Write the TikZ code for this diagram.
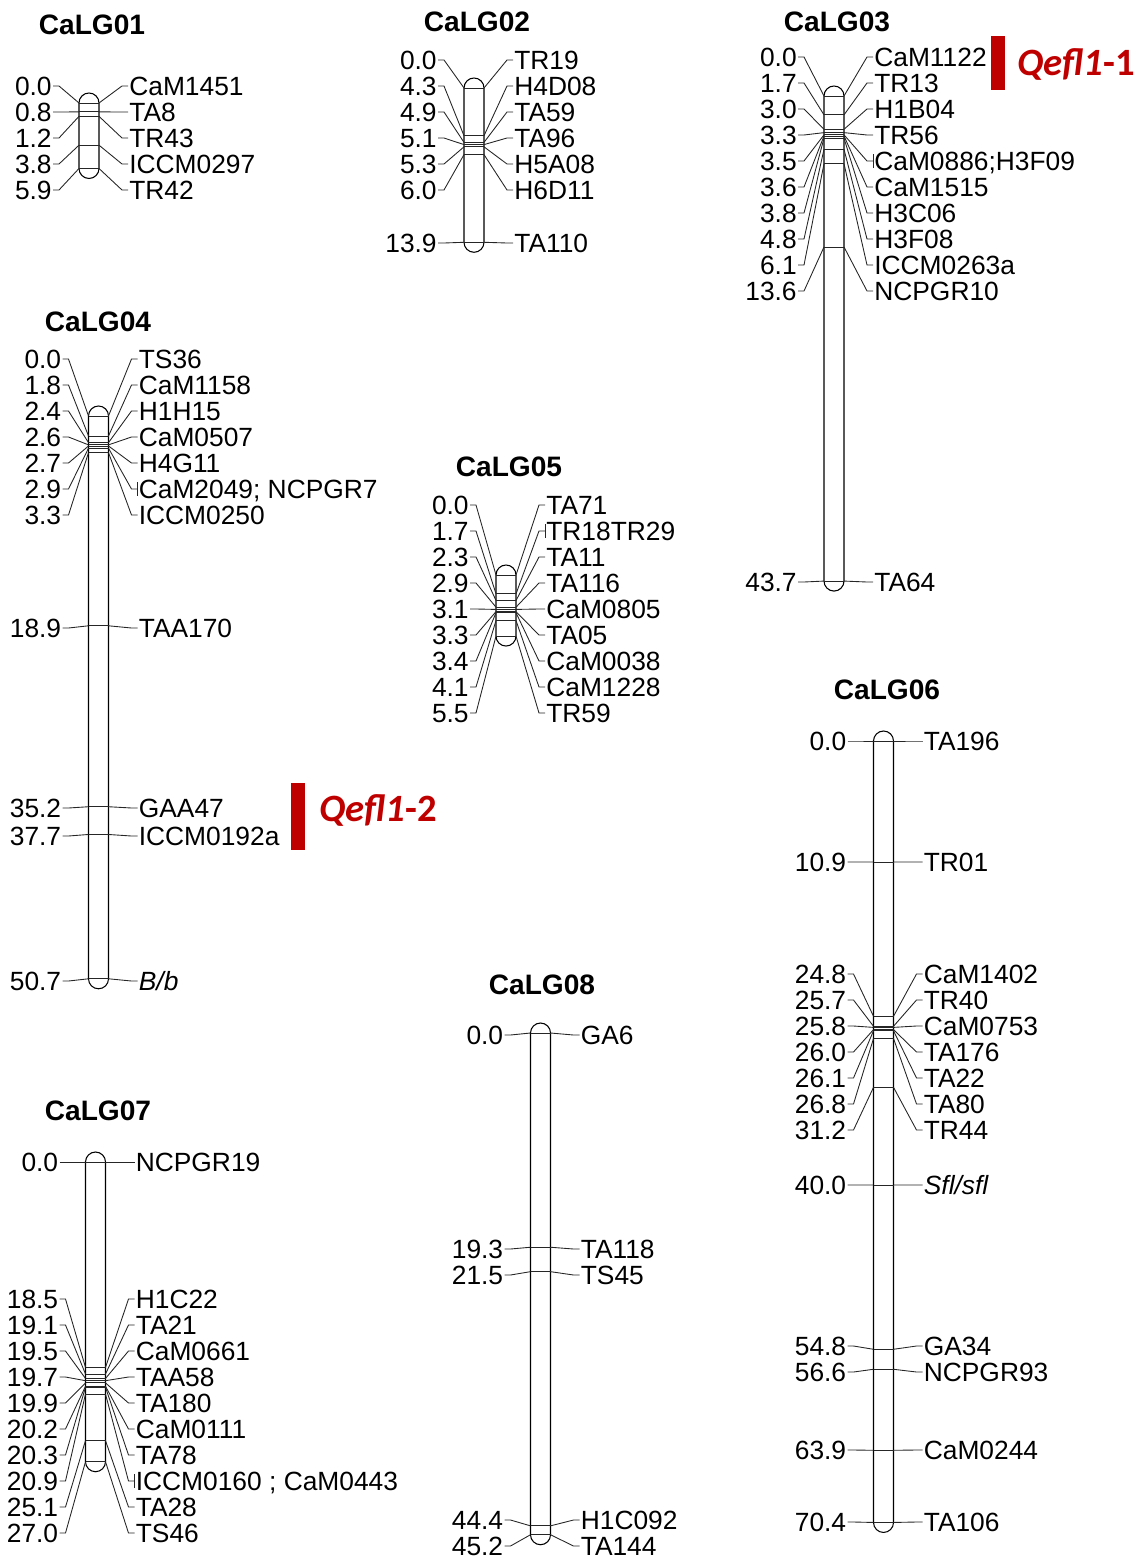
\documentclass[tikz,border=0pt]{standalone}
\usepackage{fontspec}
\setmainfont{Liberation Sans}
\newfontfamily\qtlfont{Carlito}
\usetikzlibrary{positioning}
\definecolor{rojoqtl}{rgb}{0.75,0,0}
\tikzset{
  cromosoma/.style={
    draw=black,
    line width=0.6pt,
    fill=white
  },
  enlace/.style={
    draw=black!85,
    line width=0.5pt
  },
  posicion/.style={
    anchor=east,
    inner sep=0pt,
    text height=10.7pt,
    text depth=0pt,
    font=\fontsize{15}{15}\selectfont
  },
  marcador/.style={
    anchor=west,
    inner sep=0pt,
    text height=10.7pt,
    text depth=0pt,
    font=\fontsize{15}{15}\selectfont
  },
  grupo/.style={
    inner sep=0pt,
    font=\bfseries\fontsize{16}{16}\selectfont
  },
  qtl/.style={
    anchor=west,
    inner sep=0pt,
    text=rojoqtl,
    font=\qtlfont\bfseries\fontsize{22}{22}\selectfont
  }
}
\newcommand{\bbgen}{\textit{B/b}}
\newcommand{\sflgen}{\textit{Sfl/sfl}}
% #1 id, #2 x of the bar, #3 y of 0 cM, #4 last position, #5 pos/label y/marker/combined
\newcommand{\ligamiento}[5]{%
  \pgfmathsetmacro\yfin{#3+11.1*#4}
  \draw[cromosoma] (#2-10,#3) -- (#2-10,\yfin)
    arc[start angle=180,end angle=360,radius=0.2cm] -- (#2+10,#3)
    arc[start angle=0,end angle=180,radius=0.2cm] -- cycle;
  \foreach \p/\ly/\m/\k [count=\i] in {#5} {
    \pgfmathsetmacro\my{#3+11.1*\p}
    \coordinate (#1a\i) at (#2-10,\my);
    \coordinate (#1b\i) at (#2+10,\my);
    \draw[enlace] (#1a\i) -- (#1b\i);
    \node[posicion] (#1p\i) at (#2-37,\ly) {\p};
    \node[marcador] (#1m\i) at (#2+40,\ly) {\m};
    \draw[enlace] (#1p\i.east) ++(1,0) -- ++(6,0) -- (#1a\i);
    \draw[enlace] (#1m\i.west) ++(-1,0) -- ++(-6,0) -- (#1b\i);
    \ifnum\k=1
      \draw[enlace] (#1m\i.west) ++(-1,-7) -- ++(0,14);
    \fi
  }
}

\begin{document}
\begin{tikzpicture}[x=0.02cm,y=-0.02cm]
\useasboundingbox (0,0) rectangle (1138,1558);

% CaLG01
\node[grupo] (lg01) at (92,25) {CaLG01};
\ligamiento{g1}{89}{103}{5.9}{0.0/86/CaM1451/0, 0.8/112/TA8/0, 1.2/138/TR43/0,
  3.8/164/ICCM0297/0, 5.9/190/TR42/0}

% CaLG02
\node[grupo] (lg02) at (477,22) {CaLG02};
\ligamiento{g2}{474}{88}{13.9}{0.0/60/TR19/0, 4.3/86/H4D08/0, 4.9/112/TA59/0,
  5.1/138/TA96/0, 5.3/164/H5A08/0, 6.0/190/H6D11/0, 13.9/243/TA110/0}

% CaLG03
\node[grupo] (lg03) at (837,22) {CaLG03};
\ligamiento{g3}{834}{96}{43.7}{0.0/57/CaM1122/0, 1.7/83/TR13/0, 3.0/109/H1B04/0,
  3.3/135/TR56/0, 3.5/161/CaM0886;H3F09/1, 3.6/187/CaM1515/0, 3.8/213/H3C06/0,
  4.8/239/H3F08/0, 6.1/265/ICCM0263a/0, 13.6/291/NCPGR10/0, 43.7/582/TA64/0}
\fill[rojoqtl] (991,36) rectangle (1005,90);
\node[qtl] (qefl1) at (1017,64) {\textit{Qefl1}-1};

% CaLG04
\node[grupo] (lg04) at (98,322) {CaLG04};
\ligamiento{g4}{98.5}{416}{50.7}{0.0/359/TS36/0, 1.8/385/CaM1158/0, 2.4/411/H1H15/0,
  2.6/437/CaM0507/0, 2.7/463/H4G11/0, 2.9/489/CaM2049; NCPGR7/1, 3.3/515/ICCM0250/0,
  18.9/628/TAA170/0, 35.2/808/GAA47/0, 37.7/836/ICCM0192a/0, 50.7/981/\bbgen/0}
\fill[rojoqtl] (291,783) rectangle (305,850);
\node[qtl] (qefl2) at (319,810) {\textit{Qefl1}-2};

% CaLG05
\node[grupo] (lg05) at (509,467) {CaLG05};
\ligamiento{g5}{506}{575}{5.5}{0.0/505/TA71/0, 1.7/531/TR18TR29/1, 2.3/557/TA11/0,
  2.9/583/TA116/0, 3.1/609/CaM0805/0, 3.3/635/TA05/0, 3.4/661/CaM0038/0,
  4.1/687/CaM1228/0, 5.5/713/TR59/0}

% CaLG06
\node[grupo] (lg06) at (887,690) {CaLG06};
\ligamiento{g6}{883.5}{741}{70.4}{0.0/741/TA196/0, 10.9/862/TR01/0, 24.8/974/CaM1402/0,
  25.7/1000/TR40/0, 25.8/1026/CaM0753/0, 26.0/1052/TA176/0, 26.1/1078/TA22/0,
  26.8/1104/TA80/0, 31.2/1130/TR44/0, 40.0/1185/\sflgen/0, 54.8/1346/GA34/0,
  56.6/1372/NCPGR93/0, 63.9/1450/CaM0244/0, 70.4/1522/TA106/0}

% CaLG07
\node[grupo] (lg07) at (98,1111) {CaLG07};
\ligamiento{g7}{95.5}{1162}{27.0}{0.0/1162/NCPGR19/0, 18.5/1299/H1C22/0, 19.1/1325/TA21/0,
  19.5/1351/CaM0661/0, 19.7/1377/TAA58/0, 19.9/1403/TA180/0, 20.2/1429/CaM0111/0,
  20.3/1455/TA78/0, 20.9/1481/ICCM0160 ; CaM0443/1, 25.1/1507/TA28/0, 27.0/1533/TS46/0}

% CaLG08
\node[grupo] (lg08) at (542,985) {CaLG08};
\ligamiento{g8}{540.5}{1033}{45.2}{0.0/1035/GA6/0, 19.3/1249/TA118/0, 21.5/1275/TS45/0,
  44.4/1520/H1C092/0, 45.2/1546/TA144/0}
\end{tikzpicture}
\end{document}
